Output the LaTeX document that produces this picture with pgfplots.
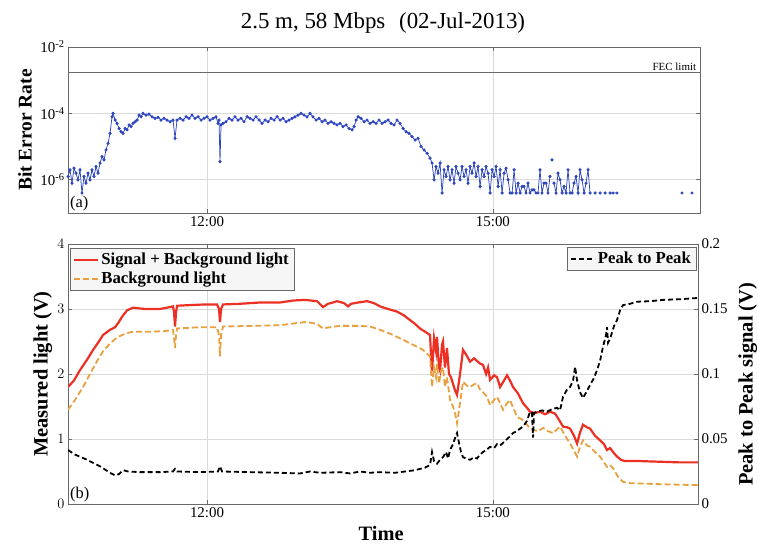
\documentclass[border=0pt]{standalone}
\usepackage{pgfplots}
\usepackage{pgfplotstable}
\pgfplotsset{compat=1.18}
\usepackage{fontspec}
\setmainfont{Liberation Serif}

\definecolor{berblue}{RGB}{45,70,190}
\definecolor{sigred}{RGB}{236,48,36}
\definecolor{bgorange}{RGB}{232,160,62}
\definecolor{gridgray}{RGB}{218,218,218}
\definecolor{axisgray}{RGB}{105,105,105}
\definecolor{legfill}{RGB}{246,246,246}

\newcommand\tickfont{\fontsize{15}{17}\selectfont}
\newcommand\labfont{\fontsize{20.5}{24}\selectfont\bfseries}
\newcommand\legfont{\fontsize{16.8}{19.5}\selectfont\bfseries}

% time in hours of day, bit error rate
\pgfplotstableread{
t ber
10.542 1.26e-6
10.562 2.0e-6
10.583 7.9e-7
10.604 2.24e-6
10.625 1.58e-6
10.646 1.0e-6
10.667 2.0e-6
10.688 4.0e-7
10.709 1.26e-6
10.730 7.9e-7
10.751 1.58e-6
10.772 1.0e-6
10.793 2.0e-6
10.814 1.26e-6
10.835 2.5e-6
10.856 1.58e-6
10.877 3.2e-6
10.898 5.0e-6
10.919 4.0e-6
10.940 7.9e-6
10.961 1.26e-5
10.982 2.5e-5
11.003 7.9e-5
11.014 1.0e-4
11.035 6.3e-5
11.056 5.0e-5
11.077 3.5e-5
11.098 2.8e-5
11.119 2.5e-5
11.140 3.5e-5
11.161 3.2e-5
11.182 4.5e-5
11.203 4.0e-5
11.224 5.0e-5
11.245 5.6e-5
11.266 6.3e-5
11.287 8.9e-5
11.308 7.9e-5
11.328 1.0e-4
11.360 8.9e-5
11.391 9.5e-5
11.423 7.9e-5
11.454 7.1e-5
11.486 7.6e-5
11.517 6.3e-5
11.549 7.1e-5
11.580 6.3e-5
11.612 5.6e-5
11.643 6.3e-5
11.664 1.78e-5
11.685 6.3e-5
11.717 7.1e-5
11.748 6.3e-5
11.780 7.9e-5
11.811 7.1e-5
11.843 8.9e-5
11.874 7.1e-5
11.906 7.9e-5
11.937 6.3e-5
11.969 7.1e-5
12.000 7.9e-5
12.031 6.3e-5
12.063 7.1e-5
12.094 7.9e-5
12.115 5.0e-5
12.126 6.3e-5
12.136 3.5e-6
12.147 4.5e-5
12.168 5.0e-5
12.199 5.6e-5
12.231 7.1e-5
12.262 6.3e-5
12.294 7.9e-5
12.325 6.3e-5
12.357 7.1e-5
12.388 5.6e-5
12.420 7.9e-5
12.451 7.1e-5
12.483 6.3e-5
12.514 7.9e-5
12.546 6.3e-5
12.577 5.0e-5
12.609 6.3e-5
12.640 5.6e-5
12.672 7.1e-5
12.703 6.3e-5
12.735 7.9e-5
12.766 6.3e-5
12.798 7.1e-5
12.829 5.6e-5
12.860 6.3e-5
12.892 7.1e-5
12.923 7.9e-5
12.955 8.9e-5
12.986 1.0e-4
13.018 8.9e-5
13.049 7.9e-5
13.081 1.0e-4
13.112 7.9e-5
13.144 6.3e-5
13.175 7.1e-5
13.207 5.6e-5
13.238 6.3e-5
13.270 5.0e-5
13.301 5.6e-5
13.333 5.0e-5
13.364 4.5e-5
13.396 5.0e-5
13.427 4.0e-5
13.459 4.5e-5
13.490 3.5e-5
13.522 3.2e-5
13.543 4.0e-5
13.564 6.3e-5
13.585 7.9e-5
13.616 7.1e-5
13.648 5.6e-5
13.679 6.3e-5
13.711 5.0e-5
13.742 5.6e-5
13.774 5.0e-5
13.805 6.3e-5
13.837 5.0e-5
13.868 5.6e-5
13.900 6.3e-5
13.931 5.0e-5
13.963 4.5e-5
13.994 6.3e-5
14.025 5.0e-5
14.057 3.5e-5
14.088 2.8e-5
14.120 2.5e-5
14.151 2.0e-5
14.183 1.58e-5
14.214 1.78e-5
14.246 1.0e-5
14.277 7.9e-6
14.309 6.3e-6
14.340 4.5e-6
14.361 3.2e-6
14.382 1.0e-6
14.403 2.5e-6
14.424 1.58e-6
14.445 3.2e-6
14.466 4.0e-7
14.487 2.0e-6
14.508 1.26e-6
14.529 2.5e-6
14.550 1.0e-6
14.571 2.0e-6
14.592 7.9e-7
14.613 2.5e-6
14.634 1.58e-6
14.655 1.0e-6
14.676 2.5e-6
14.697 1.26e-6
14.718 2.0e-6
14.739 7.9e-7
14.760 2.5e-6
14.781 1.58e-6
14.802 3.2e-6
14.823 1.26e-6
14.844 2.5e-6
14.865 6.3e-7
14.886 2.0e-6
14.907 1.26e-6
14.928 2.5e-6
14.949 1.58e-6
14.970 4.0e-7
14.991 2.0e-6
15.012 1.26e-6
15.033 2.5e-6
15.054 6.3e-7
15.075 2.0e-6
15.096 4.0e-7
15.117 1.58e-6
15.138 2.24e-6
15.159 1.0e-6
15.180 4.0e-7
15.201 4.0e-7
15.222 2.0e-6
15.243 4.0e-7
15.264 7.9e-7
15.285 4.0e-7
15.306 6.3e-7
15.326 6.3e-7
15.347 4.0e-7
15.368 7.9e-7
15.389 4.0e-7
15.410 5.0e-7
15.431 5.0e-7
15.452 4.0e-7
15.473 4.0e-7
15.494 2.0e-6
15.515 4.0e-7
15.536 7.9e-7
15.557 7.9e-7
15.578 4.0e-7
15.599 1.26e-6
15.610 nan
15.620 4.0e-6
15.630 nan
15.641 7.9e-7
15.662 4.0e-7
15.683 1.58e-6
15.704 1.0e-6
15.725 4.0e-7
15.746 6.3e-7
15.767 4.0e-7
15.788 2.0e-6
15.809 4.0e-7
15.830 4.0e-7
15.851 7.9e-7
15.872 1.26e-6
15.893 4.0e-7
15.914 2.0e-6
15.935 1.0e-6
15.956 4.0e-7
15.977 7.9e-7
15.998 2.0e-6
16.019 4.0e-7
16.045 nan
16.072 4.0e-7
16.100 nan
16.124 4.0e-7
16.150 nan
16.177 4.0e-7
16.200 nan
16.229 4.0e-7
16.245 nan
16.260 4.0e-7
16.302 4.0e-7
16.600 nan
16.984 4.0e-7
17.040 nan
17.089 4.0e-7
}\bertable

% time in hours of day, signal plus background light (V)
\pgfplotstableread{
t v
10.541 1.80
10.604 1.90
10.667 2.06
10.741 2.22
10.804 2.37
10.856 2.48
10.909 2.60
10.982 2.68
11.035 2.72
11.066 2.78
11.108 2.88
11.161 2.98
11.224 3.02
11.349 3.00
11.507 3.00
11.612 3.03
11.643 3.04
11.654 2.95
11.664 2.73
11.675 2.95
11.685 3.05
11.822 3.06
11.979 3.07
12.105 3.07
12.126 3.00
12.136 2.80
12.147 3.00
12.168 3.07
12.346 3.08
12.556 3.10
12.766 3.10
12.902 3.13
13.028 3.14
13.154 3.12
13.217 3.03
13.270 3.08
13.322 3.10
13.364 3.12
13.438 3.09
13.480 3.04
13.511 3.08
13.585 3.10
13.679 3.12
13.752 3.09
13.815 3.04
13.899 3.00
13.994 2.96
14.067 2.90
14.130 2.83
14.183 2.77
14.235 2.70
14.288 2.65
14.340 2.60
14.350 2.30
14.361 2.04
14.382 2.55
14.403 2.35
14.413 2.57
14.434 2.10
14.445 2.05
14.466 2.45
14.476 2.50
14.497 2.10
14.518 2.40
14.539 2.00
14.560 1.95
14.581 1.85
14.602 1.75
14.623 1.68
14.655 2.00
14.686 2.37
14.718 2.30
14.760 2.19
14.802 2.24
14.833 2.20
14.865 2.16
14.896 2.14
14.928 2.00
14.949 2.10
14.970 1.91
15.012 1.98
15.043 1.95
15.075 1.80
15.117 1.90
15.148 1.98
15.179 1.90
15.211 1.80
15.263 1.70
15.316 1.55
15.358 1.48
15.389 1.42
15.442 1.40
15.494 1.42
15.547 1.38
15.599 1.42
15.652 1.39
15.683 1.32
15.736 1.19
15.778 1.18
15.809 1.16
15.851 1.05
15.883 0.93
15.914 1.10
15.945 1.22
15.987 1.18
16.019 1.16
16.071 1.05
16.124 0.98
16.166 0.92
16.197 0.83
16.229 0.86
16.271 0.78
16.302 0.73
16.344 0.68
16.386 0.66
16.544 0.66
16.753 0.65
16.963 0.64
17.152 0.64
}\sigtable

% time in hours of day, background light (V)
\pgfplotstableread{
t v
10.541 1.45
10.615 1.60
10.699 1.80
10.772 2.00
10.846 2.20
10.909 2.35
10.982 2.47
11.056 2.56
11.108 2.60
11.161 2.63
11.224 2.65
11.402 2.65
11.559 2.66
11.643 2.68
11.654 2.55
11.664 2.40
11.675 2.60
11.685 2.70
11.927 2.72
12.105 2.72
12.126 2.60
12.136 2.27
12.147 2.60
12.168 2.73
12.451 2.74
12.766 2.75
12.976 2.79
13.049 2.80
13.154 2.77
13.217 2.70
13.291 2.72
13.396 2.74
13.605 2.74
13.710 2.73
13.815 2.68
13.920 2.62
13.994 2.57
14.067 2.52
14.130 2.47
14.204 2.42
14.267 2.37
14.340 2.27
14.350 2.05
14.361 1.80
14.382 2.10
14.403 1.95
14.413 2.15
14.434 1.85
14.455 2.05
14.476 2.10
14.497 1.80
14.518 1.95
14.550 1.60
14.581 1.50
14.602 1.40
14.623 1.24
14.655 1.55
14.686 1.88
14.728 1.82
14.760 1.80
14.802 1.84
14.833 1.86
14.865 1.76
14.896 1.72
14.938 1.65
14.970 1.52
15.012 1.60
15.043 1.65
15.075 1.55
15.106 1.45
15.148 1.55
15.179 1.60
15.221 1.45
15.253 1.34
15.305 1.30
15.358 1.22
15.389 1.16
15.421 1.14
15.473 1.12
15.526 1.17
15.578 1.12
15.631 1.09
15.673 1.15
15.704 1.19
15.757 1.05
15.809 0.93
15.851 0.82
15.883 0.73
15.914 0.88
15.945 0.98
15.987 0.90
16.019 0.88
16.071 0.80
16.124 0.73
16.166 0.64
16.197 0.57
16.229 0.60
16.260 0.55
16.313 0.42
16.365 0.34
16.439 0.32
16.649 0.31
16.858 0.30
17.152 0.29
}\bgtable

% time in hours of day, peak to peak signal (V)
\pgfplotstableread{
t p
10.541 0.0415
10.615 0.038
10.741 0.034
10.877 0.029
10.982 0.024
11.035 0.022
11.077 0.023
11.119 0.026
11.171 0.025
11.297 0.0245
11.507 0.0245
11.643 0.025
11.664 0.027
11.685 0.025
11.927 0.0245
12.115 0.025
12.136 0.029
12.157 0.025
12.451 0.0245
12.766 0.024
12.976 0.0235
13.081 0.025
13.186 0.024
13.396 0.0245
13.501 0.0235
13.605 0.025
13.710 0.024
13.815 0.0245
13.973 0.024
14.078 0.025
14.183 0.026
14.235 0.027
14.288 0.028
14.340 0.030
14.361 0.040
14.382 0.033
14.413 0.031
14.445 0.034
14.476 0.036
14.508 0.040
14.529 0.035
14.550 0.0415
14.581 0.046
14.613 0.053
14.623 0.0546
14.644 0.047
14.665 0.040
14.686 0.036
14.718 0.035
14.760 0.034
14.802 0.036
14.833 0.035
14.865 0.038
14.896 0.040
14.938 0.042
14.970 0.044
15.012 0.043
15.043 0.046
15.075 0.045
15.106 0.047
15.148 0.050
15.179 0.052
15.211 0.0546
15.253 0.056
15.284 0.058
15.316 0.0595
15.358 0.064
15.389 0.071
15.410 0.070
15.421 0.051
15.431 0.070
15.463 0.071
15.515 0.072
15.568 0.071
15.620 0.073
15.673 0.074
15.704 0.072
15.736 0.0826
15.778 0.088
15.809 0.090
15.841 0.095
15.862 0.1056
15.883 0.095
15.914 0.086
15.945 0.0815
15.987 0.087
16.019 0.0915
16.061 0.097
16.092 0.103
16.124 0.110
16.155 0.121
16.187 0.130
16.197 0.136
16.208 0.124
16.229 0.127
16.271 0.137
16.302 0.1415
16.334 0.149
16.365 0.153
16.439 0.154
16.512 0.1556
16.649 0.156
16.785 0.157
16.963 0.1575
17.152 0.1585
}\pptable

\pgfplotsset{
  fig/.style={
    scale only axis,
    anchor=south west,
    axis line style={axisgray, line width=0.8bp},
    tick style={axisgray, line width=0.6bp},
    major tick length=4bp,
    tick align=inside,
    grid=major,
    major grid style={gridgray, line width=0.6bp},
    ticklabel style={font=\tickfont},
    xtick={12,15},
    xticklabels={12:00,15:00},
    label style={font=\labfont},
    legend cell align=left,
    legend image code/.code={\draw[##1] (0bp,0bp) -- (24bp,0bp);},
  },
}

\begin{document}
\begin{tikzpicture}[x=1bp,y=1bp]
\useasboundingbox (0,0) rectangle (758,545);

% (a) bit error rate
\begin{axis}[fig,
  at={(68bp,332bp)}, width=632bp, height=166bp,
  xmin=10.541, xmax=17.173,
  ymode=log, log basis y=10, ymin=1e-7, ymax=1e-2,
  ytick={1e-6,1e-4,1e-2},
  yticklabels={10\textsuperscript{-6},10\textsuperscript{-4},10\textsuperscript{-2}},
  minor ytick={},
  unbounded coords=jump,
  ylabel={Bit Error Rate},
  ylabel style={at={(axis description cs:-0.068,0.5)}, anchor=center, font=\fontsize{19.5}{23}\selectfont\bfseries},
]
\addplot[axisgray, line width=0.9bp, forget plot] coordinates {(10.541,1.7e-3) (17.173,1.7e-3)};
\addplot[berblue, line width=0.75bp, mark=*, mark size=1.2bp] table[x=t, y=ber] {\bertable};
\node[anchor=south east, font=\fontsize{11}{12}\selectfont, inner sep=1.5bp] at (axis cs:17.15,1.7e-3) {FEC limit};
\node[anchor=south west, font=\fontsize{16.5}{18}\selectfont, inner sep=2bp] at (rel axis cs:0,0) {(a)};
\end{axis}

\node[font=\fontsize{23}{27}\selectfont] at (383,522) {2.5 m, 58 Mbps\hspace{0.6em}(02-Jul-2013)};

% (b) measured light, left scale
\begin{axis}[fig,
  at={(68bp,41bp)}, width=630bp, height=260bp,
  xmin=10.541, xmax=17.152,
  ymin=0, ymax=4, ytick={0,1,2,3,4},
  ytick pos=left,
  yticklabel style={font=\tickfont\bfseries},
  ylabel={Measured light (V)},
  ylabel style={at={(axis description cs:-0.040,0.5)}, anchor=center},
  xlabel={Time},
  xlabel style={at={(axis description cs:0.497,-0.112)}, anchor=center},
  legend style={at={(0.0032,0.985)}, anchor=north west, draw=axisgray,
    fill=legfill, font=\legfont, inner xsep=3bp, inner ysep=3bp, row sep=2bp},
]
\addplot[sigred, line width=2.2bp] table[x=t, y=v] {\sigtable};
\addlegendentry{Signal + Background light}
\addplot[bgorange, line width=1.8bp, dash pattern=on 6bp off 3bp] table[x=t, y=v] {\bgtable};
\addlegendentry{Background light}
\node[anchor=south west, font=\fontsize{16.5}{18}\selectfont, inner sep=2bp] at (rel axis cs:0,0) {(b)};
\end{axis}

% (b) peak to peak signal, right scale
\begin{axis}[fig,
  at={(68bp,41bp)}, width=630bp, height=260bp,
  xmin=10.541, xmax=17.152,
  ymin=0, ymax=0.2, ytick={0,0.05,0.1,0.15,0.2},
  yticklabels={0,0.05,0.1,0.15,0.2},
  axis y line*=right, axis x line=none, grid=none,
  ylabel={Peak to Peak signal (V)},
  ylabel style={at={(axis description cs:1.079,0.46)}, anchor=center},
  legend style={at={(0.997,0.988)}, anchor=north east, draw=axisgray,
    fill=legfill, font=\legfont, inner xsep=3bp, inner ysep=3bp},
]
\addplot[black, line width=1.8bp, dash pattern=on 5bp off 3bp] table[x=t, y=p] {\pptable};
\addlegendentry{Peak to Peak}
\end{axis}
\end{tikzpicture}
\end{document}
